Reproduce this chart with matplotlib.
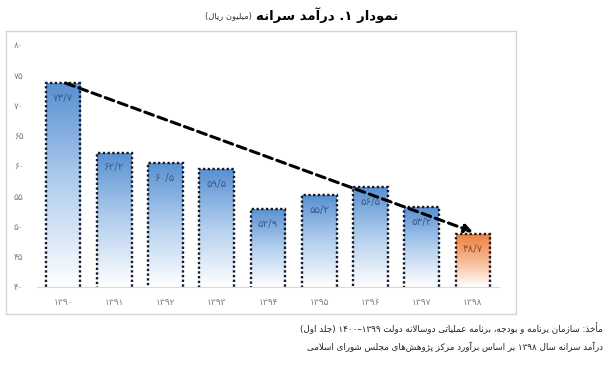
import numpy as np
import matplotlib
matplotlib.use("Agg")
import matplotlib.pyplot as plt
from matplotlib.colors import LinearSegmentedColormap
from matplotlib.patches import Rectangle

# data
years = ["1390", "1391", "1392", "1393", "1394", "1395", "1396", "1397", "1398"]
values = [73.7, 62.2, 60.5, 59.5, 52.9, 55.2, 56.5, 53.2, 48.7]
yticks = [40, 45, 50, 55, 60, 65, 70, 75, 80]

title_main = "نمودار 1. درآمد سرانه"
title_unit = "(میلیون ریال)"
source_1 = "مأخذ: سازمان برنامه و بودجه، برنامه عملیاتی دوسالانه دولت 1399–1400 (جلد اول)"
source_2 = "درآمد سرانه سال 1398 بر اساس برآورد مرکز پژوهش\u200cهای مجلس شورای اسلامی"

# --- minimal persian shaping + bidi (no arabic_reshaper available) ---
FORMS = {  # isolated, final, initial, medial
    "ا": ("\uFE8D", "\uFE8E"), "آ": ("\uFE81", "\uFE82"), "أ": ("\uFE83", "\uFE84"),
    "د": ("\uFEA9", "\uFEAA"), "ذ": ("\uFEAB", "\uFEAC"), "ر": ("\uFEAD", "\uFEAE"),
    "ز": ("\uFEAF", "\uFEB0"), "ژ": ("\uFB8A", "\uFB8B"), "و": ("\uFEED", "\uFEEE"),
    "ب": ("\uFE8F", "\uFE90", "\uFE91", "\uFE92"), "پ": ("\uFB56", "\uFB57", "\uFB58", "\uFB59"),
    "ت": ("\uFE95", "\uFE96", "\uFE97", "\uFE98"), "ج": ("\uFE9D", "\uFE9E", "\uFE9F", "\uFEA0"),
    "خ": ("\uFEA5", "\uFEA6", "\uFEA7", "\uFEA8"), "س": ("\uFEB1", "\uFEB2", "\uFEB3", "\uFEB4"),
    "ش": ("\uFEB5", "\uFEB6", "\uFEB7", "\uFEB8"), "ع": ("\uFEC9", "\uFECA", "\uFECB", "\uFECC"),
    "ک": ("\uFB8E", "\uFB8F", "\uFB90", "\uFB91"), "ل": ("\uFEDD", "\uFEDE", "\uFEDF", "\uFEE0"),
    "م": ("\uFEE1", "\uFEE2", "\uFEE3", "\uFEE4"), "ن": ("\uFEE5", "\uFEE6", "\uFEE7", "\uFEE8"),
    "ه": ("\uFEE9", "\uFEEA", "\uFEEB", "\uFEEC"), "ی": ("\uFBFC", "\uFBFD", "\uFBFE", "\uFBFF"),
}
LAM_ALEF = {"ا": ("\uFEFB", "\uFEFC"), "آ": ("\uFEF5", "\uFEF6"), "أ": ("\uFEF7", "\uFEF8")}
FA_DIGITS = str.maketrans("0123456789", "۰۱۲۳۴۵۶۷۸۹")


def dual(c):
    return c in FORMS and len(FORMS[c]) == 4


def shape(s):
    out = []
    i = 0
    while i < len(s):
        c = s[i]
        if c not in FORMS:
            if c != "\u200c":
                out.append(c)
            i += 1
            continue
        prev_join = i > 0 and dual(s[i - 1])
        if c == "ل" and i + 1 < len(s) and s[i + 1] in LAM_ALEF:
            out.append(LAM_ALEF[s[i + 1]][1 if prev_join else 0])
            i += 2
            continue
        next_join = dual(c) and i + 1 < len(s) and s[i + 1] in FORMS
        f = FORMS[c]
        if prev_join and next_join:
            out.append(f[3])
        elif prev_join:
            out.append(f[1])
        elif next_join:
            out.append(f[2])
        else:
            out.append(f[0])
        i += 1
    return "".join(out)


def fa(s):
    s = shape(s.translate(FA_DIGITS))
    tokens = []
    i = 0
    while i < len(s):
        if s[i] in "۰۱۲۳۴۵۶۷۸۹":
            j = i
            while j < len(s) and (s[j] in "۰۱۲۳۴۵۶۷۸۹" or
                                  (s[j] == "/" and j + 1 < len(s) and s[j + 1] in "۰۱۲۳۴۵۶۷۸۹")):
                j += 1
            tokens.append(s[i:j])
            i = j
        else:
            tokens.append({"(": ")", ")": "("}.get(s[i], s[i]))
            i += 1
    return "".join(tokens[::-1])


plt.rcParams["font.family"] = ["DejaVu Sans"]

fig = plt.figure(figsize=(6.16, 3.66), dpi=100)
W, H = 616, 366

# outer frame of the chart
fig.patches.append(Rectangle((6 / W, 1 - 314 / H), 510 / W, 283 / H, transform=fig.transFigure,
                             fill=False, edgecolor="#d4d4d4", linewidth=1))

ax = fig.add_axes([37.4 / W, 1 - 287 / H, 461.2 / W, 242 / H])
ax.set_xlim(-0.5, len(years) - 0.5)
ax.set_ylim(40, 80)

x = np.arange(len(years))
blue = LinearSegmentedColormap.from_list("b", ["#ffffff", "#b3cfee", "#5890d2"])
orange = LinearSegmentedColormap.from_list("o", ["#ffffff", "#f6b993", "#ec8142"])
grad = np.linspace(0, 1, 256).reshape(-1, 1)

bars = ax.bar(x, values, width=0.68, fill=False, edgecolor="#141a28",
              linewidth=1.7, linestyle=(0, (1, 1)), zorder=3)
for k, b in enumerate(bars):
    cm = orange if k == len(bars) - 1 else blue
    im = ax.imshow(grad, cmap=cm, origin="lower", aspect="auto", zorder=2,
                   extent=(b.get_x(), b.get_x() + b.get_width(), 40, values[k]))
    im.set_clip_path(b)
    col = "#9a4c20" if k == len(bars) - 1 else "#3d5d8c"
    ax.text(x[k], values[k] - 1.6, fa(f"{values[k]:.1f}".replace(".", "/")), ha="center", va="top",
            fontsize=7.5, color=col, zorder=4)

ax.set_xlim(-0.5, len(years) - 0.5)
ax.set_ylim(40, 80)

# trend arrow
ax.annotate("", xy=(8, 49.1), xytext=(0.05, 73.7),
            arrowprops=dict(arrowstyle="-|>", color="black", lw=2.2, linestyle=(0, (3, 1.6)),
                            mutation_scale=12, shrinkA=0, shrinkB=0), zorder=5)

ax.set_xticks(x)
ax.set_xticklabels([fa(y) for y in years], fontsize=6.5, color="#7f7f7f")
ax.set_yticks(yticks)
ax.set_yticklabels([fa(str(t)) for t in yticks], fontsize=6.5, color="#7f7f7f", ha="left")
ax.tick_params(axis="both", length=0)
ax.tick_params(axis="y", pad=17)
ax.tick_params(axis="x", pad=8)
for side in ["top", "right", "left"]:
    ax.spines[side].set_visible(False)
ax.spines["bottom"].set_color("#d9d9d9")

# title: bold part on the right, unit to its left, whole group centred near x=302
fig.canvas.draw()
r = fig.canvas.get_renderer()
t1 = fig.text(0, 1 - 15 / H, fa(title_main), ha="left", va="center", fontsize=9.5,
              fontweight="bold", color="black")
t2 = fig.text(0, 1 - 16 / H, fa(title_unit), ha="left", va="center", fontsize=6, color="#333333")
w1 = t1.get_window_extent(r).width
w2 = t2.get_window_extent(r).width
gap = 4
left = 302 - (w1 + w2 + gap) / 2
t2.set_x(left / W)
t1.set_x((left + w2 + gap) / W)

# sources
fig.text(603 / W, 1 - 328 / H, fa(source_1), ha="right", va="center", fontsize=6.3, color="#222222")
fig.text(603 / W, 1 - 347 / H, fa(source_2), ha="right", va="center", fontsize=6.3, color="#222222")

fig.savefig("out.png", dpi=100, facecolor="white")
